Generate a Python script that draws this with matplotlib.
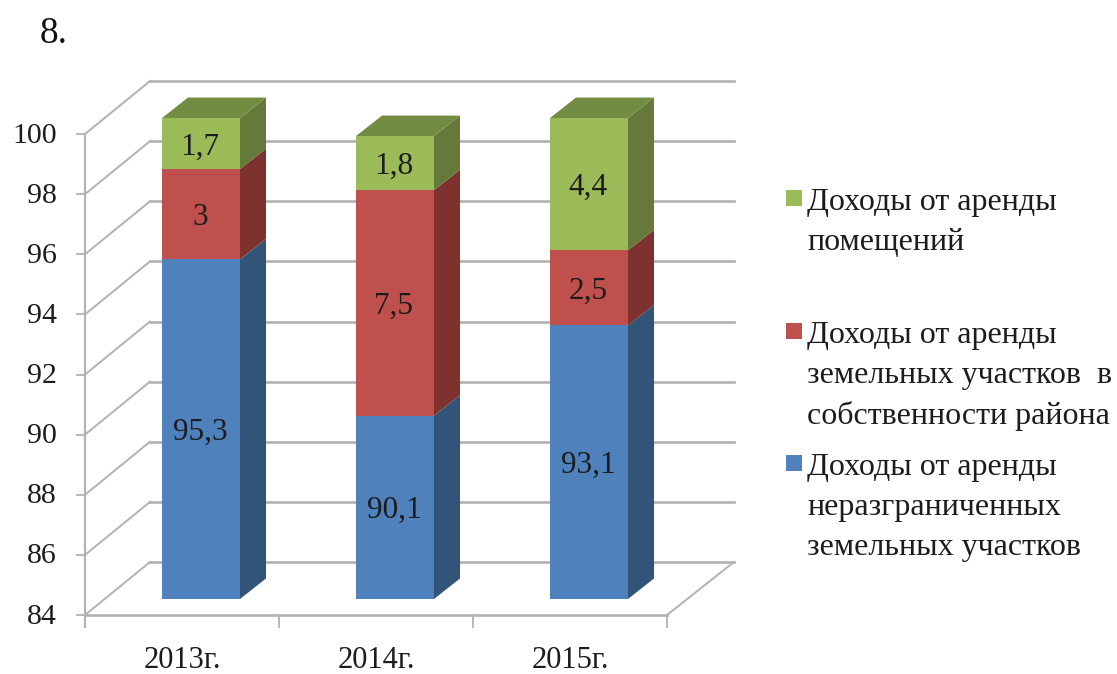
import matplotlib
matplotlib.use("Agg")
import matplotlib.pyplot as plt
import numpy as np

plt.rcParams["font.family"] = ["Liberation Serif", "DejaVu Serif"]

years = ["2013г.", "2014г.", "2015г."]
blue_values = [95.3, 90.1, 93.1]
red_values = [3, 7.5, 2.5]
green_values = [1.7, 1.8, 4.4]
value_labels = [["95,3", "90,1", "93,1"], ["3", "7,5", "2,5"], ["1,7", "1,8", "4,4"]]
y_ticks = [84, 86, 88, 90, 92, 94, 96, 98, 100]
legend_labels = [
    "Доходы от аренды\nпомещений",
    "Доходы от аренды\nземельных участков  в\nсобственности района",
    "Доходы от аренды\nнеразграниченных\nземельных участков",
]

front_colors = ["#4f81bd", "#c0504d", "#9bbb59"]
side_colors = ["#335479", "#7d3230", "#657a3a"]
top_color = "#728d42"
grid_color = "#b2b2b2"
text_color = "#1c1c1c"

W, H = 1117, 674
px_x = 194.0
px_y = 30.06
x0, y0 = 85, 615


def to_x(px):
    return (px - x0) / px_x


def to_y(py):
    return 84 + (y0 - py) / px_y


fig = plt.figure(figsize=(W / 100, H / 100), dpi=100)
ax = fig.add_axes([0, 0, 1, 1])
ax.set_xlim(to_x(0), to_x(W))
ax.set_ylim(to_y(H), to_y(0))
ax.axis("off")

# depth of the walls and of the bars, in data units
wall_dx = 65 / px_x
wall_dy = 53 / px_y
bar_dx = 26 / px_x
bar_dy = 20.5 / px_y
bar_lift = 16 / px_y
bar_width = 78 / px_x
bar_shift = 77 / px_x
n = len(years)

# back wall and left wall
for t in y_ticks:
    ax.plot([wall_dx, n + (734 - 667) / px_x], [t + wall_dy] * 2, color=grid_color, lw=1.9, zorder=1)
    ax.plot([0, wall_dx], [t, t + wall_dy], color=grid_color, lw=1.4, zorder=1)
    ax.plot([to_x(77), 0], [t, t], color=grid_color, lw=1.3, zorder=2)
ax.plot([n, n + (734 - 667) / px_x], [84, 84 + wall_dy], color=grid_color, lw=1.4, zorder=1)

# front axes
ax.plot([0, 0], [to_y(627), 100], color=grid_color, lw=1.6, zorder=2)
ax.plot([0, n], [84, 84], color=grid_color, lw=1.9, zorder=2)
for i in range(n + 1):
    ax.plot([i, i], [to_y(627), 84], color=grid_color, lw=1.3, zorder=2)

for t in y_ticks:
    ax.text(to_x(57), t - 0.05, str(t), ha="right", va="center", fontsize=21.5, color=text_color)
for i, year in enumerate(years):
    ax.text(i + 0.5, to_y(661), year, ha="center", va="center", fontsize=22, color=text_color)

# bars
series = [blue_values, red_values, green_values]
label_drop = 3.5 / px_y
for i in range(n):
    left = i + bar_shift
    right = left + bar_width
    bottom = 84
    for s in range(3):
        if s == 0:
            height = series[s][i] - 84
        else:
            height = series[s][i]
        y1 = bottom + bar_lift
        y2 = bottom + height + bar_lift
        ax.fill([left, right, right, left], [y1, y1, y2, y2], color=front_colors[s], lw=0, zorder=3)
        ax.fill([right, right + bar_dx, right + bar_dx, right],
                [y1, y1 + bar_dy, y2 + bar_dy, y2], color=side_colors[s], lw=0, zorder=3)
        ax.text(left + bar_width / 2 - 1 / px_x, (y1 + y2) / 2 - label_drop, value_labels[s][i], ha="center",
                va="center", fontsize=22.5, color=text_color, zorder=4)
        bottom = bottom + height
    y2 = bottom + bar_lift
    ax.fill([left, right, right + bar_dx, left + bar_dx], [y2, y2, y2 + bar_dy, y2 + bar_dy],
            color=top_color, lw=0, zorder=3)

# legend, top entry first
legend_rows = [198, 331, 463]
for row, label, color in zip(legend_rows, legend_labels, front_colors[::-1]):
    ax.fill([to_x(786), to_x(802), to_x(802), to_x(786)],
            [to_y(row - 8), to_y(row - 8), to_y(row + 8), to_y(row + 8)], color=color, lw=0)
    ax.text(to_x(807), to_y(row - 10), label, ha="left", va="top", fontsize=23,
            linespacing=1.5, color=text_color)

ax.text(to_x(40), to_y(34), "8.", ha="left", va="center", fontsize=27, color="#111111")

fig.savefig("out.png", dpi=100)
